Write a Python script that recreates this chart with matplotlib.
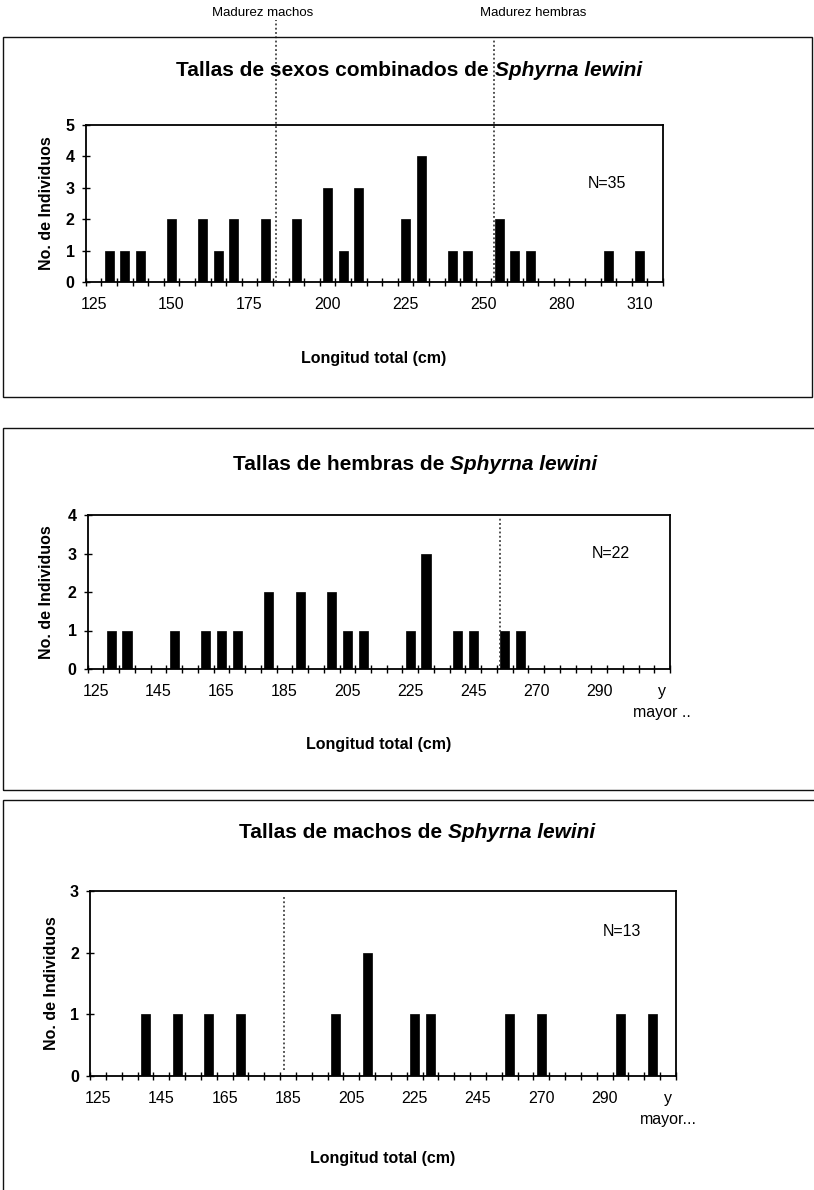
import matplotlib
matplotlib.use("Agg")
import matplotlib.pyplot as plt
from matplotlib.patches import Rectangle
import matplotlib.transforms as mtransforms

plt.rcParams['font.family'] = ['Liberation Sans', 'DejaVu Sans']

W, H = 814, 1190

# ---------------- data ----------------
bins_combined = ['125', '130', '135', '140', '145', '150', '155', '160', '165', '170',
                 '175', '180', '185', '190', '195', '200', '205', '210', '215', '220',
                 '225', '230', '235', '240', '245', '250', '256', '262', '268', '274',
                 '280', '286', '292', '298', '304', '310', 'y mayor...']
counts_combined = [0, 1, 1, 1, 0, 2, 0, 2, 1, 2, 0, 2, 0, 2, 0, 3, 1, 3, 0, 0,
                   2, 4, 0, 1, 1, 0, 2, 1, 1, 0, 0, 0, 0, 1, 0, 1, 0]

bins_hembras = ['125', '130', '135', '140', '145', '150', '155', '160', '165', '170',
                '175', '180', '185', '190', '195', '200', '205', '210', '215', '220',
                '225', '230', '235', '240', '245', '250', '257', '263', '270', '275',
                '280', '285', '290', '295', '300', '305', 'y\nmayor ..']
counts_hembras = [0, 1, 1, 0, 0, 1, 0, 1, 1, 1, 0, 2, 0, 2, 0, 2, 1, 1, 0, 0,
                  1, 3, 0, 1, 1, 0, 1, 1, 0, 0, 0, 0, 0, 0, 0, 0, 0]

bins_machos = ['125', '130', '135', '140', '145', '150', '155', '160', '165', '170',
               '175', '180', '185', '190', '195', '200', '205', '210', '215', '220',
               '225', '230', '235', '240', '245', '250', '257', '263', '270', '275',
               '280', '285', '290', '295', '300', '305', 'y\nmayor...']
counts_machos = [0, 0, 0, 1, 0, 1, 0, 1, 0, 1, 0, 0, 0, 0, 0, 1, 0, 2, 0, 0,
                 1, 1, 0, 0, 0, 0, 1, 0, 1, 0, 0, 0, 0, 1, 0, 1, 0]

titles_normal = ['Tallas de sexos combinados de', 'Tallas de hembras de', 'Tallas de machos de']
title_italic = 'Sphyrna lewini'
n_labels = ['N=35', 'N=22', 'N=13']
ymax = [5, 4, 3]
label_step = [5, 4, 4]
xlabel = 'Longitud total (cm)'
ylabel = 'No. de Individuos'
label_mad_machos = 'Madurez machos'
label_mad_hembras = 'Madurez hembras'
# maturity marks, in category-position units of the axis
mad_machos_pos = 11.72
mad_hembras_pos = 25.7

# ---------------- layout (pixel) ----------------
panels = [
    dict(bins=bins_combined, counts=counts_combined, ax=(85.7, 125, 663, 282),
         title_xy=(409, 70), n_xy=(607, 184), xl_xy=(374, 359), yl_x=47, pad=11.0,
         frame=(3, 37, 812, 397)),
    dict(bins=bins_hembras, counts=counts_hembras, ax=(87.7, 515, 670, 669),
         title_xy=(415, 465), n_xy=(611, 553), xl_xy=(379, 745), yl_x=47, pad=10.5,
         frame=(3, 428, 840, 790)),
    dict(bins=bins_machos, counts=counts_machos, ax=(90, 891, 676, 1076),
         title_xy=(417, 833), n_xy=(622, 932), xl_xy=(383, 1158), yl_x=51, pad=10.5,
         frame=(3, 800, 840, 1220)),
]

fig = plt.figure(figsize=(W / 100, H / 100), dpi=100)
fig.patch.set_facecolor('white')


def fx(px):
    return px / W


def fy(py):
    return 1 - py / H


renderer = fig.canvas.get_renderer()


def mixed_title(xc, yc, normal, italic, size=15):
    t1 = fig.text(0, fy(yc), normal, fontsize=size, fontweight='bold', va='center', ha='left')
    t2 = fig.text(0, fy(yc), italic, fontsize=size, fontweight='bold', style='italic',
                  va='center', ha='left')
    w1 = t1.get_window_extent(renderer).width
    w2 = t2.get_window_extent(renderer).width
    sp = 0.278 * size * 100 / 72
    total = w1 + sp + w2
    x0 = xc - total / 2
    t1.set_x(fx(x0))
    t2.set_x(fx(x0 + w1 + sp))


axes = []
for i, p in enumerate(panels):
    # chart frame
    x0, y0, x1, y1 = p['frame']
    fig.patches.append(Rectangle((fx(x0), fy(y1)), fx(x1) - fx(x0), fy(y0) - fy(y1),
                                 transform=fig.transFigure, fill=False,
                                 edgecolor='#111111', linewidth=1.0, zorder=0))
    l, t, r, b = p['ax']
    ax = fig.add_axes([fx(l), fy(b), fx(r) - fx(l), fy(t) - fy(b)])
    axes.append(ax)
    n = len(p['bins'])
    xs = list(range(n))
    ax.bar(xs, p['counts'], width=0.58, color='black', edgecolor='black', linewidth=0.5,
           zorder=3)
    ax.set_xlim(-0.5, n - 0.5)
    ax.set_ylim(0, ymax[i])
    ax.set_yticks(range(ymax[i] + 1))
    ax.set_yticklabels([str(v) for v in range(ymax[i] + 1)], fontsize=11.5,
                       fontweight='bold')
    step = label_step[i]
    major = list(range(0, n, step))
    ax.set_xticks(major)
    ax.set_xticklabels([p['bins'][k] for k in major], fontsize=11.5, linespacing=1.55)
    ax.set_xticks([k - 0.5 for k in range(n + 1)], minor=True)
    ax.tick_params(axis='x', which='major', length=0, pad=p['pad'])
    ax.tick_params(axis='x', which='minor', direction='inout', length=6, width=1.0)
    ax.tick_params(axis='y', which='major', direction='inout', length=6, width=1.0, pad=5)
    for s in ax.spines.values():
        s.set_linewidth(1.3)
        s.set_color('black')
    ax.set_facecolor('white')
    # titles & labels
    mixed_title(p['title_xy'][0], p['title_xy'][1], titles_normal[i], title_italic)
    fig.text(fx(p['n_xy'][0]), fy(p['n_xy'][1]), n_labels[i], fontsize=11.5,
             ha='center', va='center')
    fig.text(fx(p['xl_xy'][0]), fy(p['xl_xy'][1]), xlabel, fontsize=11.5,
             fontweight='bold', ha='center', va='center')
    fig.text(fx(p['yl_x']), (fy(t) + fy(b)) / 2, ylabel, fontsize=11.5,
             fontweight='bold', rotation=90, ha='center', va='center')

dot = dict(color='#222222', linewidth=1.1, linestyle=(0, (1.2, 1.6)), clip_on=False,
           zorder=4)

# panel 1: both maturity lines, extending above the chart to their labels
ax = axes[0]
trans = mtransforms.blended_transform_factory(ax.transData, ax.transAxes)
l, t, r, b = panels[0]['ax']
ax.plot([mad_machos_pos, mad_machos_pos], [0, (b - 20) / (b - t)], transform=trans, **dot)
ax.plot([mad_hembras_pos, mad_hembras_pos], [0, (b - 40) / (b - t)], transform=trans, **dot)
fig.text(fx(263), fy(13), label_mad_machos, fontsize=9.5, ha='center', va='center')
fig.text(fx(533), fy(13), label_mad_hembras, fontsize=9.5, ha='center', va='center')

# panel 2: female maturity
ax = axes[1]
trans = mtransforms.blended_transform_factory(ax.transData, ax.transAxes)
ax.plot([mad_hembras_pos, mad_hembras_pos], [0.02, 0.98], transform=trans, **dot)

# panel 3: male maturity
ax = axes[2]
trans = mtransforms.blended_transform_factory(ax.transData, ax.transAxes)
ax.plot([mad_machos_pos, mad_machos_pos], [0.03, 0.97], transform=trans, **dot)

fig.savefig('out.png', dpi=100, facecolor='white')
